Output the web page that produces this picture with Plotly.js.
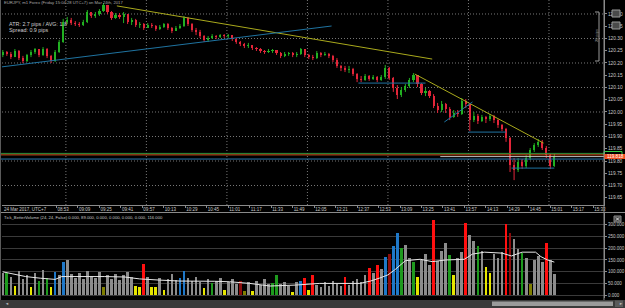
<!DOCTYPE html>
<html><head><meta charset="utf-8">
<script src="https://cdn.plot.ly/plotly-3.0.1.min.js"></script>
<style>html,body{margin:0;padding:0;background:#000;}#c{width:625px;height:308px;}</style>
</head><body><div id="c"></div>
<script>
// ---------- DATA ----------
const chartTitle = "EURJPY, m1 Forex (Friday 15:04:28 UTC+7) on Mar 24th, 2017";
const atrText = "ATR: 2.7 pips / AVG: 1.8";
const spreadText = "Spread: 0.9 pips";
const dateLabel = "24 Mar 2017, UTC+7";
const volumeTitle = "Tick_BetterVolume (24, 24, False) 0.000, 89.000, 0.000, 0.000, 0.000, 0.000, 116.000";
const barStart = "08:13";
const barMinutes = 3;
const firstOpen = 120.233;
const close = [120.245,120.237,120.224,120.249,120.220,120.208,120.233,120.245,120.257,120.233,
120.257,120.229,120.208,120.245,120.286,120.367,120.376,120.363,120.359,120.355,
120.367,120.408,120.392,120.400,120.412,120.437,120.408,120.384,120.396,120.388,
120.400,120.367,120.376,120.355,120.359,120.343,120.355,120.351,120.339,120.347,
120.359,120.343,120.331,120.343,120.351,120.384,120.359,120.335,120.327,120.310,
120.294,120.302,120.310,120.306,120.314,120.310,120.314,120.298,120.286,120.278,
120.269,120.273,120.261,120.257,120.249,120.245,120.249,120.253,120.241,120.229,
120.237,120.241,120.233,120.237,120.257,120.233,120.224,120.220,120.241,120.233,
120.237,120.229,120.212,120.188,120.180,120.171,120.176,120.155,120.135,120.131,
120.147,120.135,120.143,120.131,120.143,120.180,120.139,120.098,120.069,120.090,
120.106,120.131,120.151,120.114,120.078,120.086,120.065,120.024,120.008,120.033,
120.012,119.980,119.996,119.992,120.045,120.033,119.967,119.984,119.963,119.980,
119.971,119.984,119.967,119.947,119.931,119.894,119.784,119.763,119.796,119.780,
119.812,119.845,119.865,119.878,119.853,119.824,119.780,119.820];
const high = [120.253,120.249,120.245,120.257,120.253,120.229,120.237,120.253,120.261,120.257,
120.265,120.261,120.233,120.253,120.294,120.380,120.388,120.384,120.371,120.367,
120.376,120.416,120.408,120.408,120.420,120.445,120.437,120.412,120.404,120.404,
120.408,120.400,120.384,120.380,120.367,120.363,120.363,120.363,120.355,120.355,
120.363,120.363,120.347,120.351,120.359,120.392,120.388,120.363,120.343,120.335,
120.314,120.310,120.318,120.314,120.318,120.318,120.318,120.314,120.302,120.290,
120.282,120.282,120.273,120.265,120.261,120.253,120.257,120.257,120.253,120.245,
120.245,120.245,120.245,120.245,120.261,120.257,120.237,120.233,120.249,120.245,
120.245,120.241,120.233,120.220,120.192,120.188,120.188,120.180,120.159,120.147,
120.155,120.151,120.151,120.147,120.151,120.192,120.184,120.143,120.110,120.102,
120.114,120.139,120.159,120.151,120.118,120.098,120.090,120.073,120.037,120.045,
120.037,120.020,120.008,120.008,120.057,120.053,120.029,120.000,119.992,119.988,
119.984,119.992,119.988,119.971,119.951,119.935,119.898,119.812,119.812,119.808,
119.824,119.853,119.873,119.890,119.886,119.861,119.829,119.829];
const low = [120.224,120.229,120.216,120.224,120.212,120.200,120.204,120.224,120.237,120.224,
120.229,120.220,120.200,120.204,120.241,120.282,120.359,120.355,120.351,120.347,
120.351,120.363,120.384,120.384,120.392,120.408,120.400,120.376,120.380,120.380,
120.363,120.359,120.355,120.347,120.343,120.335,120.343,120.343,120.331,120.335,
120.343,120.335,120.322,120.331,120.339,120.347,120.351,120.327,120.314,120.302,
120.286,120.286,120.298,120.298,120.302,120.302,120.302,120.290,120.278,120.269,
120.261,120.261,120.253,120.249,120.241,120.237,120.241,120.241,120.233,120.220,
120.224,120.229,120.224,120.224,120.233,120.224,120.216,120.212,120.216,120.224,
120.229,120.220,120.204,120.180,120.167,120.163,120.159,120.147,120.122,120.122,
120.127,120.127,120.131,120.122,120.127,120.135,120.131,120.082,120.053,120.061,
120.082,120.098,120.122,120.102,120.069,120.065,120.057,120.016,119.996,120.000,
119.996,119.967,119.976,119.980,119.988,120.016,119.922,119.959,119.951,119.959,
119.955,119.963,119.955,119.935,119.922,119.878,119.755,119.722,119.755,119.767,
119.771,119.804,119.837,119.857,119.845,119.812,119.767,119.776];
const volume = [95,97,80,42,102,70,88,35,95,63,
108,72,35,100,85,140,152,90,75,95,
68,105,80,72,98,35,88,70,92,65,
85,100,78,42,35,131,80,35,35,75,
22,70,90,65,76,105,72,60,80,55,
30,68,52,62,75,22,58,70,48,60,
18,55,18,62,45,70,50,52,88,48,
55,40,15,58,62,75,22,85,45,38,
55,42,60,50,40,77,45,62,70,55,
85,118,95,130,110,163,177,210,265,200,
215,160,140,80,150,175,130,318,145,190,
220,173,85,160,185,305,255,230,210,190,
120,95,175,160,185,300,265,240,195,178,
160,48,150,165,140,220,150,90];
// volume classes: N normal, R red, B blue, G green, Y yellow, D dark red, O olive
const volumeClass = ("NGNYNNNYNG"+"NGYBNBNNNN"+"NNNNNONNNN"+"NNNYYRNYYN"+"YNNNBBNNNN"+
  "YNGNNYNNND"+"ONYNNNNGGN"+"NNYNBRYRNN"+"NNNNNRNNNN"+"NRNRNBDBBG"+"NNGYNNNRNN"+
  "NGYNNRNNGN"+"YYNNNRDNNG"+"NONNNRNN").split("");
const maTimes = ["08:13","08:18","08:24","08:30","08:41","08:52","08:57","09:22","09:29","09:44",
"09:55","10:10","10:25","10:51","11:02","11:17","11:32","11:51","12:09","12:39",
"12:47","12:54","13:00","13:05","13:09","13:13","13:24","13:33","13:43","13:57",
"14:03","14:12","14:25","14:32","14:40","14:50","14:54","14:59","15:04"];
const maValues = [100,94,84,80,73,68,80,82,80,78,70,65,61,60,58,51,40,44,51,51,
61,74,87,108,129,147,153,143,150,153,175,183,179,167,183,183,164,150,141];
const timeLabels = ["08:53","09:09","09:25","09:41","09:57","10:13","10:29","10:45","11:01","11:17",
"11:33","11:49","12:05","12:21","12:37","12:53","13:09","13:25","13:41","13:57",
"14:13","14:29","14:45","15:01","15:17","15:33"];
const hourLines = ["09:00","10:00","11:00","12:00","13:00","14:00","15:00"];
const priceTicks = [119.65,119.70,119.75,119.80,119.85,119.90,119.95,120.00,120.05,120.10,120.15,120.20,120.25,120.30,120.35,120.40];
const volumeTicks = [0,50,100,150,200,250,300];
const yellowLine1 = {t:["09:38","13:33"], p:[120.433,120.216]};
const yellowLine2 = {t:["13:20","14:56"], p:[120.155,119.873]};
const blueLine1 = {t:["08:12","12:18"], p:[120.184,120.351]};
const blueLine2 = {t:["12:38","13:28"], p:[120.118,120.118]};
const blueLine3 = {t:["13:42","14:03"], p:[119.959,120.041]};
const blueLine4 = {t:["14:00","14:28"], p:[119.918,119.918]};
const blueLine5 = {t:["14:32","15:04"], p:[119.771,119.771]};
const levelPrices = [119.831, 119.825, 119.808];
const bidLine = {t:["13:39"], p:119.818};
const currentPrice = "119.818";

// ---------- BUILD ----------
const toMin = s => { const [h,m] = s.split(":").map(Number); return h*60+m; };
const t0 = toMin(barStart);
const barT = close.map((_,i) => t0 + i*barMinutes);
const open = close.map((c,i) => i===0 ? firstOpen : close[i-1]);
const W=625, H=308;
const px = v => v/W, py = v => 1 - v/H;
const xRange = [492.4, 941.0];
const volColors = {N:'#8c8c8c', R:'#ff1010', B:'#1f78c8', G:'#1e9a1e', Y:'#e6e600', D:'#8b0d0d', O:'#7f7f00'};
const UP='#22b022', DN='#e3263a';

const traces = [];
// candle wicks and bodies
['up','dn'].forEach(side => {
  const idx = barT.map((_,i)=>i).filter(i => side==='up' ? close[i]>=open[i] : close[i]<open[i]);
  const wx=[], wy=[];
  idx.forEach(i => { wx.push(barT[i],barT[i],null); wy.push(high[i],low[i],null); });
  const col = side==='up'?UP:DN;
  traces.push({type:'scatter', mode:'lines', x:wx, y:wy, xaxis:'x', yaxis:'y', line:{color:col, width:1}, hoverinfo:'skip'});
  traces.push({type:'bar', x:idx.map(i=>barT[i]), base:idx.map(i=>Math.min(open[i],close[i])),
    y:idx.map(i=>Math.max(Math.abs(close[i]-open[i]),0.0015)), width:1.6, xaxis:'x', yaxis:'y',
    marker:{color:col, line:{width:0}}, hoverinfo:'skip'});
});
const tl = (o,col) => ({type:'scatter', mode:'lines', x:o.t.map(toMin), y:o.p, xaxis:'x', yaxis:'y',
  line:{color:col, width:1}, hoverinfo:'skip'});
traces.push(tl(yellowLine1,'#a9a91c'), tl(yellowLine2,'#a9a91c'));
[blueLine1,blueLine2,blueLine3,blueLine4,blueLine5].forEach(b => traces.push(tl(b,'#1f73a0')));
traces.push({type:'bar', x:barT, y:volume, xaxis:'x2', yaxis:'y2', width:2.0,
  marker:{color:volumeClass.map(c=>volColors[c]), line:{width:0}}, hoverinfo:'skip'});
traces.push({type:'scatter', mode:'lines', x:maTimes.map(toMin), y:maValues, xaxis:'x2', yaxis:'y2',
  line:{color:'#e6e6e6', width:1}, hoverinfo:'skip'});

const shapes = [];
hourLines.forEach(h => shapes.push({type:'line', layer:'below', xref:'x', yref:'paper',
  x0:toMin(h), x1:toMin(h), y0:py(205), y1:1, line:{color:'#777', width:1, dash:'1px,2px'}}));
priceTicks.filter(p => Math.round(p*100)%10===0).forEach(p => shapes.push({type:'line', layer:'below',
  xref:'paper', yref:'y', x0:px(2), x1:px(604), y0:p, y1:p, line:{color:'#777', width:1, dash:'1px,2px'}}));
const levelCols = ['#2f8f3a','#d2551e','#2a78b0'];
levelPrices.forEach((p,i) => shapes.push({type:'line', xref:'paper', yref:'y', x0:px(1), x1:px(604),
  y0:p, y1:p, line:{color:levelCols[i], width:1}}));
shapes.push({type:'line', xref:'x', yref:'y', x0:toMin(bidLine.t[0]), x1:xRange[1], y0:bidLine.p, y1:bidLine.p,
  line:{color:'#bdbdbd', width:1}});
// 20 pips ruler
shapes.push({type:'path', xref:'paper', yref:'paper', line:{color:'#9a9a9a', width:1},
  path:`M ${px(595)} ${py(12)} L ${px(599)} ${py(12)} L ${px(599)} ${py(61)} L ${px(595)} ${py(61)}`});
// icons on price scale
[[612,10,620,17],[612,22,620,29]].forEach(r => shapes.push({type:'rect', xref:'paper', yref:'paper',
  x0:px(r[0]), x1:px(r[2]), y0:py(r[3]), y1:py(r[1]), fillcolor:'#4a4a4a', line:{color:'#9a9a9a', width:1}}));
// current price boxes
shapes.push({type:'rect', xref:'paper', yref:'paper', x0:px(604), x1:px(622), y0:py(155), y1:py(151.5),
  fillcolor:'rgba(0,0,0,0)', line:{color:'#2ecc40', width:1}});
shapes.push({type:'rect', xref:'paper', yref:'paper', x0:px(604), x1:px(625), y0:py(159), y1:py(154),
  fillcolor:'#f0501f', line:{width:0}});
// panel separators / borders
shapes.push({type:'line', xref:'paper', yref:'paper', x0:0, x1:1, y0:py(212.5), y1:py(212.5), line:{color:'#8a8a8a', width:1}});
shapes.push({type:'line', xref:'paper', yref:'paper', x0:px(0.5), x1:px(0.5), y0:py(300), y1:1, line:{color:'#5a5a5a', width:1}});
shapes.push({type:'line', xref:'paper', yref:'paper', x0:px(604), x1:px(604), y0:0, y1:1, line:{color:'#8a8a8a', width:1}});
// volume close icon (drawn, no text)
shapes.push({type:'rect', xref:'paper', yref:'paper', x0:px(614), x1:px(621), y0:py(222), y1:py(216),
  fillcolor:'#4a4a4a', line:{color:'#8a8a8a', width:1}});
shapes.push({type:'path', xref:'paper', yref:'paper', line:{color:'#dddddd', width:1},
  path:`M ${px(616)} ${py(217.5)} L ${px(619)} ${py(220.5)} M ${px(619)} ${py(217.5)} L ${px(616)} ${py(220.5)}`});
// scrollbar
shapes.push({type:'rect', xref:'paper', yref:'paper', x0:0, x1:1, y0:0, y1:py(300), fillcolor:'#3a3a3a', line:{width:0}});
shapes.push({type:'rect', xref:'paper', yref:'paper', x0:px(492), x1:px(613), y0:py(306), y1:py(301.5), fillcolor:'#9a9a9a', line:{width:0}});
shapes.push({type:'rect', xref:'paper', yref:'paper', x0:px(615), x1:px(623), y0:py(307), y1:py(300.5), fillcolor:'#5a5a5a', line:{width:0}});

const ann = (x,y,text,size,color,extra) => Object.assign({xref:'paper', yref:'paper', x:px(x), y:py(y),
  text:text, showarrow:false, xanchor:'left', yanchor:'middle', font:{size:size, color:color, family:'Liberation Sans, Arial, sans-serif'}}, extra||{});
const annotations = [
  ann(2,3,chartTitle,4.2,'#a8a8a8'),
  ann(7,24,atrText,5.4,'#cfcfcf'),
  ann(7,30.5,spreadText,5.4,'#cfcfcf'),
  ann(2,209.5,dateLabel,4.5,'#c8c8c8'),
  ann(2,217,volumeTitle,4.2,'#c8c8c8'),
  ann(596,36,'20 pips',4,'#a0a0a0',{xanchor:'center', textangle:-90}),
  ann(605,156.5,currentPrice,4.6,'#ffffff'),
  ann(3,303.5,'◄',4,'#bbbbbb'),
  ann(617,303.5,'►',4,'#bbbbbb')
];

const tickFont = {size:4.5, color:'#c8c8c8', family:'Liberation Sans, Arial, sans-serif'};
const layout = {
  width:W, height:H, margin:{l:0,r:0,t:0,b:0}, paper_bgcolor:'#000', plot_bgcolor:'#000',
  showlegend:false, barmode:'overlay', bargap:0,
  font:{family:'Liberation Sans, Arial, sans-serif', color:'#c8c8c8', size:5},
  xaxis:{domain:[px(2),px(604)], range:xRange, anchor:'y', rangeslider:{visible:false},
    tickmode:'array', tickvals:timeLabels.map(toMin), ticktext:timeLabels, ticklabelposition:'outside right',
    ticks:'outside', ticklen:2, tickcolor:'#8a8a8a', showgrid:false, zeroline:false,
    showline:true, linecolor:'#8a8a8a', linewidth:1, tickfont:tickFont},
  yaxis:{domain:[py(205),1], range:[119.6204,120.4571], side:'right', anchor:'x',
    tickmode:'array', tickvals:priceTicks, ticktext:priceTicks.map(v=>v.toFixed(2)),
    ticks:'outside', ticklen:2, tickcolor:'#8a8a8a', showgrid:false, zeroline:false,
    showline:true, linecolor:'#8a8a8a', linewidth:1, tickfont:{size:4.8, color:'#c8c8c8', family:'Liberation Sans, Arial, sans-serif'}},
  xaxis2:{domain:[px(2),px(604)], range:xRange, anchor:'y2',
    showticklabels:false, ticks:'', showgrid:false, zeroline:false, showline:false},
  yaxis2:{domain:[py(298),py(213)], range:[-10.6,348.5], side:'right', anchor:'x2',
    tickmode:'array', tickvals:volumeTicks, ticktext:volumeTicks.map(v=>v.toFixed(3)),
    ticks:'outside', ticklen:2, tickcolor:'#8a8a8a', showgrid:true, gridcolor:'#3a3a3a', gridwidth:1,
    zeroline:false, showline:true, linecolor:'#8a8a8a', tickfont:tickFont},
  shapes:shapes, annotations:annotations
};
Plotly.newPlot('c', traces, layout, {staticPlot:true, displayModeBar:false});
</script>
</body></html>
